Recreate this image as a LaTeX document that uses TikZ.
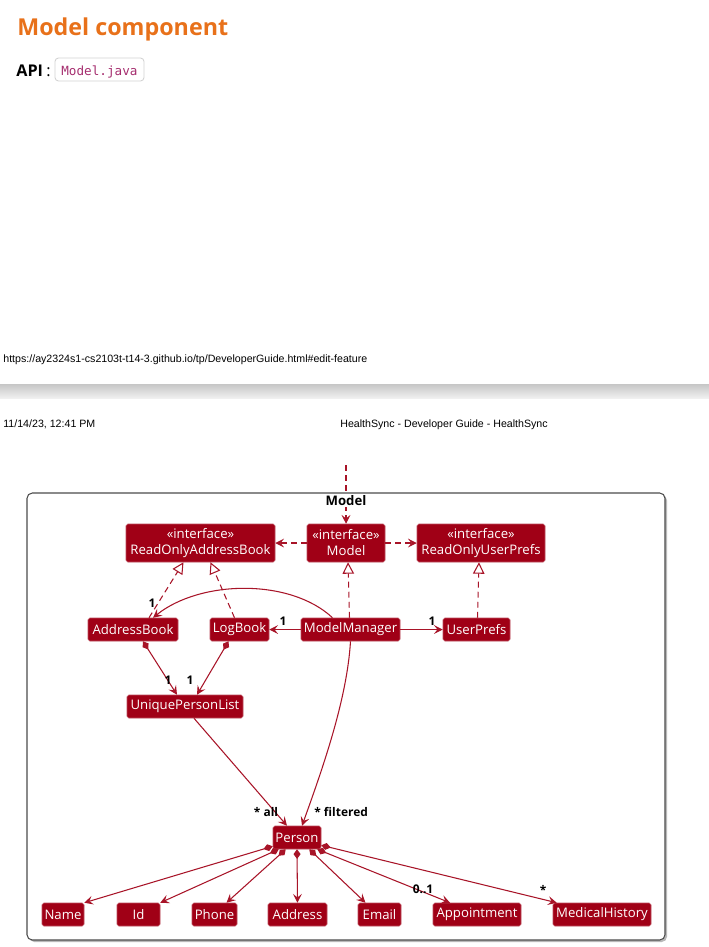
\documentclass[tikz,border=0pt]{standalone}
\usepackage{fontspec}
\setmainfont{Open Sans}
\newfontfamily\hdrfont{Liberation Sans}
\newfontfamily\codefont{DejaVu Sans Mono}
\usetikzlibrary{positioning, arrows.meta, calc}
\definecolor{umlred}{RGB}{160,0,22}
\definecolor{umlline}{RGB}{168,20,40}
\definecolor{docorange}{RGB}{232,113,26}
\definecolor{codepurple}{RGB}{165,45,110}

\begin{document}
\begin{tikzpicture}[x=0.02cm, y=-0.02cm,
  cls/.style={fill=umlred, draw=umlred!70!white, line width=0.3pt, rounded corners=1pt, text=white, inner sep=0pt,
    minimum height=23*0.02cm, font=\fontsize{7.5}{9.1}\selectfont, align=center},
  iface/.style={cls, minimum height=38*0.02cm},
  wd/.style={minimum width=#1*0.02cm},
  mult/.style={font=\bfseries\fontsize{6.8}{8}\selectfont, inner sep=0pt, text=black},
  txt/.style={anchor=base west, inner sep=0pt},
  link/.style={draw=umlline, line width=0.6pt},
  dep/.style={link, dash pattern=on 3.4pt off 2.3pt, -{Stealth[length=5pt, width=5pt, inset=2pt]}},
  impl/.style={link, dash pattern=on 3.4pt off 2.3pt, -{Triangle[open, length=6.5pt, width=6.5pt, fill=white]}},
  assoc/.style={link, -{Stealth[length=5pt, width=5pt, inset=2pt]}},
  comp/.style={link, {Diamond[length=5.5pt, width=4pt]}-{Stealth[length=5pt, width=5pt, inset=2pt]}}]
\useasboundingbox (0,0) rectangle (709,947);

% page text
\node[txt, text=docorange, font=\bfseries\fontsize{13.25}{16}\selectfont] (title) at (17,35) {Model component};
\node[txt, font=\bfseries\fontsize{9.2}{11}\selectfont] (api) at (16,76) {API};
\node[txt, font=\fontsize{9.2}{11}\selectfont] (colon) at (46,76) {:};
\draw[gray!35, rounded corners=2pt, line width=0.5pt] (55,58) rectangle (144,81);
\node[txt, text=codepurple, font=\codefont\fontsize{7.2}{9}\selectfont] (apifile) at (61,75) {Model.java};
\node[txt, font=\hdrfont\fontsize{6.05}{7}\selectfont] (url) at (3,362)
  {https://ay2324s1-cs2103t-t14-3.github.io/tp/DeveloperGuide.html\#edit-feature};
\shade[top color=gray!45, bottom color=gray!12] (0,384) rectangle (709,398);
\node[txt, font=\hdrfont\fontsize{6.05}{7}\selectfont] (date) at (3,427) {11/14/23, 12:41 PM};
\node[txt, font=\hdrfont\fontsize{6.05}{7}\selectfont] (doctitle) at (340,427) {HealthSync - Developer Guide - HealthSync};

% package frame
\fill[gray!55, rounded corners=3pt] (29,495) rectangle (667,942);
\draw[gray!60!black, fill=white, rounded corners=3pt, line width=0.6pt] (27,493) rectangle (665,940);

% classes
\node[iface, wd=149] (rab) at (200.5,543) {«interface»\\ReadOnlyAddressBook};
\node[iface, wd=78] (model) at (346,543) {«interface»\\Model};
\node[iface, wd=128] (rup) at (481,543) {«interface»\\ReadOnlyUserPrefs};
\node[cls, wd=90] (ab) at (133,629.5) {AddressBook};
\node[cls, wd=59] (lb) at (239.5,629.5) {LogBook};
\node[cls, wd=99] (mm) at (350.5,629.5) {ModelManager};
\node[cls, wd=67] (up) at (476.5,629.5) {UserPrefs};
\node[cls, wd=116] (upl) at (185,706.5) {UniquePersonList};
\node[cls, wd=48] (person) at (297,837.5) {Person};
\node[cls, wd=42] (name) at (63,914.5) {Name};
\node[cls, wd=43] (idattr) at (138.5,914.5) {Id};
\node[cls, wd=45] (phone) at (214.5,914.5) {Phone};
\node[cls, wd=59] (address) at (297.5,914.5) {Address};
\node[cls, wd=43] (email) at (379.5,914.5) {Email};
\node[cls, wd=88] (appt) at (477,914.5) {Appointment};
\node[cls, wd=98] (medhist) at (602,914.5) {MedicalHistory};

% connectors
\coordinate (client) at (346,465);
\draw[dep] (client) -- (model.north);
\node[font=\bfseries\fontsize{7.5}{9}\selectfont, inner sep=0.5pt, fill=white] (pkg) at (346,501) {Model};
\draw[dep] (model) -- (rab);
\draw[dep] (model) -- (rup);
\draw[impl] ($(ab.north)+(16,0)$) -- ($(rab.south)+(-17,0)$);
\draw[impl] ($(lb.north)+(-5,0)$) -- ($(rab.south)+(10,0)$);
\draw[impl] ($(mm.north)+(-1,0)$) -- ($(model.south)+(2,0)$);
\draw[impl] ($(up.north)+(1,0)$) -- ($(rup.south)+(-2,0)$);
\draw[assoc] ($(mm.north)+(-18,0)$) .. controls (290,578) and (200,580) .. ($(ab.north)+(20,0)$);
\node[mult] at (152,603) {1};
\draw[assoc] (mm) -- (lb);
\node[mult] at (283,621) {1};
\draw[assoc] (mm) -- (up);
\node[mult] at (432,621) {1};
\draw[comp] ($(ab.south)+(10,0)$) -- ($(upl.north)+(-8,0)$);
\node[mult] at (168,680) {1};
\draw[comp] ($(lb.south)+(-11,0)$) -- ($(upl.north)+(12,0)$);
\node[mult] at (190,680) {1};
\draw[assoc] ($(upl.south)+(9,0)$) -- ($(person.north)+(-10,0)$);
\node[mult] at (266,812) {* all};
\draw[assoc] (mm.south) .. controls (347,700) and (322,770) .. ($(person.north)+(5,0)$);
\node[mult, anchor=west] at (314,812) {* filtered};
\draw[comp] ($(person.south west)+(0,-3)$) -- (name.north east);
\draw[comp] ($(person.south west)+(6,0)$) -- (idattr.north east);
\draw[comp] ($(person.south west)+(13,0)$) -- ($(phone.north)+(12,0)$);
\draw[comp] (person.south) -- (address.north);
\draw[comp] ($(person.south east)+(-12,0)$) -- ($(email.north)+(-14,0)$);
\draw[comp] ($(person.south east)+(-4,0)$) -- ($(appt.north)+(-27,0)$);
\node[mult] at (423,889) {0..1};
\draw[comp] ($(person.south east)+(0,-4)$) -- ($(medhist.north west)+(4,0)$);
\node[mult] at (543,890) {*};
\end{tikzpicture}
\end{document}
